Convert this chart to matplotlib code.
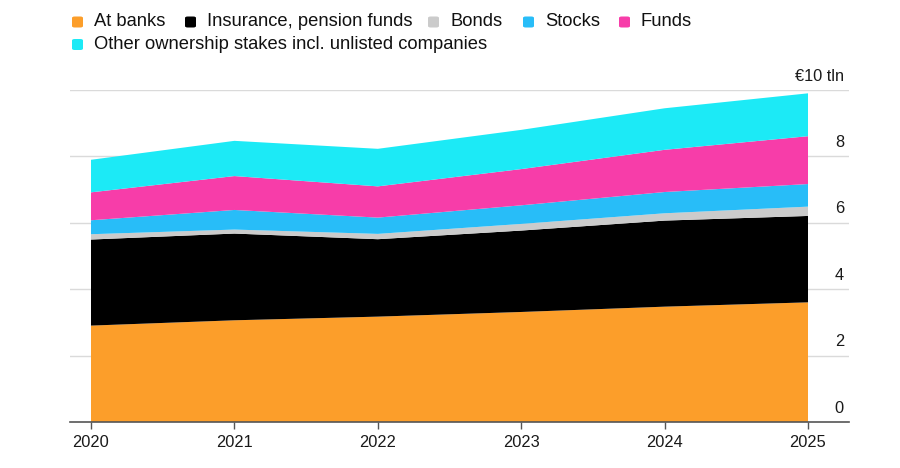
import matplotlib
matplotlib.use("Agg")
import matplotlib.pyplot as plt
from matplotlib.patches import FancyBboxPatch
from matplotlib.transforms import blended_transform_factory

plt.rcParams['font.family'] = ['Liberation Sans', 'DejaVu Sans']

years = [2020, 2021, 2022, 2023, 2024, 2025]
series_names = ["At banks", "Insurance, pension funds", "Bonds", "Stocks", "Funds",
                "Other ownership stakes incl. unlisted companies"]
at_banks = [2.91, 3.07, 3.18, 3.32, 3.48, 3.61]
insurance = [2.59, 2.61, 2.33, 2.45, 2.59, 2.60]
bonds = [0.16, 0.12, 0.16, 0.20, 0.22, 0.28]
stocks = [0.42, 0.59, 0.49, 0.56, 0.64, 0.68]
funds = [0.84, 1.02, 0.94, 1.09, 1.27, 1.44]
other = [0.98, 1.06, 1.13, 1.18, 1.25, 1.29]
y_ticks = [0, 2, 4, 6, 8, 10]
y_tick_labels = ["0", "2", "4", "6", "8", "€10 tln"]

colors = ["#FC9E2A", "#000000", "#CBCBCB", "#28BDF8", "#F73DA9", "#1CEAF6"]

fig = plt.figure(figsize=(9, 4.68), dpi=100)
ax = fig.add_axes([70/900, 1-422.3/468, (849-70)/900, (422.3-90)/468])

ax.stackplot(years, at_banks, insurance, bonds, stocks, funds, other,
             colors=colors, linewidth=0, zorder=2)

ax.set_xlim(2020 - 21/143.4, 2025 + 41/143.4)
ax.set_ylim(0, 10)

for t in y_ticks[1:]:
    ax.axhline(t, color="#DADADA", lw=1.0, zorder=1)

trans = blended_transform_factory(ax.transAxes, ax.transData)
for t, lab in zip(y_ticks, y_tick_labels):
    ax.text(0.9935, t + 0.42, lab, transform=trans, ha="right", va="center",
            fontsize=11.8, color="#1a1a1a")

for s in ["top", "right", "left"]:
    ax.spines[s].set_visible(False)
ax.spines["bottom"].set_color("#555555")
ax.spines["bottom"].set_linewidth(1.2)
ax.spines["bottom"].set_zorder(3)
ax.set_yticks([])
ax.set_xticks(years)
ax.set_xticklabels([str(y) for y in years], fontsize=11.8, color="#1a1a1a")
ax.tick_params(axis="x", length=5, width=1, color="#555555", pad=4)

# legend
row1 = [(0, 72), (1, 185), (2, 428), (3, 523), (4, 619)]
row2 = [(5, 72)]
def legend_item(idx, x, y):
    sq = FancyBboxPatch((x / 900, 1 - (y + 5.5) / 468), 11/900, 11/468,
                        boxstyle="round,pad=0,rounding_size=0.003",
                        transform=fig.transFigure, facecolor=colors[idx],
                        edgecolor="none")
    fig.patches.append(sq)
    fig.text((x + 22) / 900, 1 - y / 468, series_names[idx], ha="left", va="center",
             fontsize=13.2, color="#111111")
for idx, x in row1:
    legend_item(idx, x, 22)
for idx, x in row2:
    legend_item(idx, x, 44.5)

fig.savefig("out.png", dpi=100)
